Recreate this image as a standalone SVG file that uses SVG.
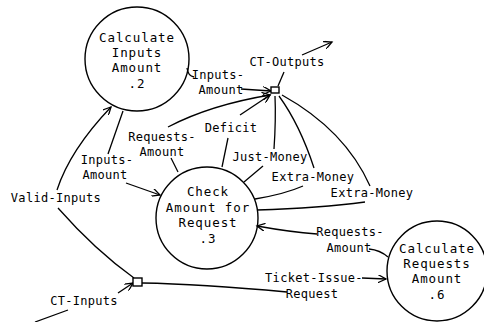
<svg xmlns="http://www.w3.org/2000/svg" width="484" height="322" viewBox="0 0 484 322">
<style>
.n{fill:none;stroke:#000;stroke-width:1.4}
.c{fill:none;stroke:#000;stroke-width:1.3}
.s{fill:#fff;stroke:#000;stroke-width:1.4}
text{font-family:"DejaVu Sans Mono","Liberation Mono",monospace;font-size:12px;fill:#000;text-anchor:middle;letter-spacing:0.3px}
.t{font-size:12.5px;letter-spacing:0.9px}
</style>
<defs>
<marker id="a" markerWidth="10" markerHeight="8" refX="8" refY="4" orient="auto" markerUnits="userSpaceOnUse">
<path d="M0,0 L8,4 L0,8" fill="none" stroke="#000" stroke-width="1.3"/>
</marker>
</defs>
<rect width="484" height="322" fill="#fff"/>
<g id="connectors">
<path class="c" d="M187,68 Q188,76 194,77"/>
<path class="c" d="M241,89 L271,91" marker-end="url(#a)"/>
<path class="c" d="M278,86 L284,72"/>
<path class="c" d="M302,55 L332,42" marker-end="url(#a)"/>
<path class="c" d="M168,127 Q210,105 270,95" marker-end="url(#a)"/>
<path class="c" d="M171,158 L178,172"/>
<path class="c" d="M240,115 L270,95" marker-end="url(#a)"/>
<path class="c" d="M222,167 L228,138"/>
<path class="c" d="M274,149 Q276,120 275,96"/>
<path class="c" d="M244,182 L263,166"/>
<path class="c" d="M314,168 Q300,125 279,96"/>
<path class="c" d="M255,199 Q285,194 303,186"/>
<path class="c" d="M370,186 Q345,130 282,95"/>
<path class="c" d="M257,210 Q320,208 365,202"/>
<path class="c" d="M317,234 Q290,232 257,226" marker-end="url(#a)"/>
<path class="c" d="M369,249 Q380,250 388,257"/>
<path class="c" d="M362,278 L386,279" marker-end="url(#a)"/>
<path class="c" d="M142,283 Q200,284 287,292"/>
<path class="c" d="M134,278 Q95,250 58,208"/>
<path class="c" d="M57,190 Q70,150 111,107" marker-end="url(#a)"/>
<path class="c" d="M123,111 L108,154"/>
<path class="c" d="M126,183 L160,195" marker-end="url(#a)"/>
<path class="c" d="M118,293 L133,283" marker-end="url(#a)"/>
<path class="c" d="M68,310 L35,322"/>
</g>
<g id="node2">
<circle class="n" cx="137" cy="59" r="52"/>
<text class="t" x="137" y="42">Calculate</text>
<text class="t" x="137" y="57">Inputs</text>
<text class="t" x="137" y="72">Amount</text>
<text class="t" x="137" y="88">.2</text>
</g>
<g id="node3">
<circle class="n" cx="207" cy="218" r="51"/>
<text class="t" x="208" y="196">Check</text>
<text class="t" x="208" y="212">Amount for</text>
<text class="t" x="208" y="227">Request</text>
<text class="t" x="208" y="243">.3</text>
</g>
<g id="node6">
<circle class="n" cx="437" cy="271" r="50"/>
<text class="t" x="437" y="253">Calculate</text>
<text class="t" x="437" y="268">Requests</text>
<text class="t" x="437" y="283">Amount</text>
<text class="t" x="437" y="299">.6</text>
</g>
<g id="ct-outputs">
<rect class="s" x="271" y="87" width="8" height="6"/>
</g>
<g id="ct-inputs">
<rect class="s" x="133" y="278" width="9" height="8"/>
</g>
<g id="labels">
<text x="287" y="66">CT-Outputs</text>
<text x="218" y="79">Inputs-</text>
<text x="221" y="94">Amount</text>
<text x="162" y="141">Requests-</text>
<text x="162" y="156">Amount</text>
<text x="231" y="132">Deficit</text>
<text x="270" y="161">Just-Money</text>
<text x="313" y="181">Extra-Money</text>
<text x="372" y="197">Extra-Money</text>
<text x="350" y="236">Requests-</text>
<text x="349" y="252">Amount</text>
<text x="314" y="282">Ticket-Issue-</text>
<text x="312" y="298">Request</text>
<text x="56" y="202">Valid-Inputs</text>
<text x="107" y="164">Inputs-</text>
<text x="105" y="179">Amount</text>
<text x="84" y="305">CT-Inputs</text>
</g>
</svg>
